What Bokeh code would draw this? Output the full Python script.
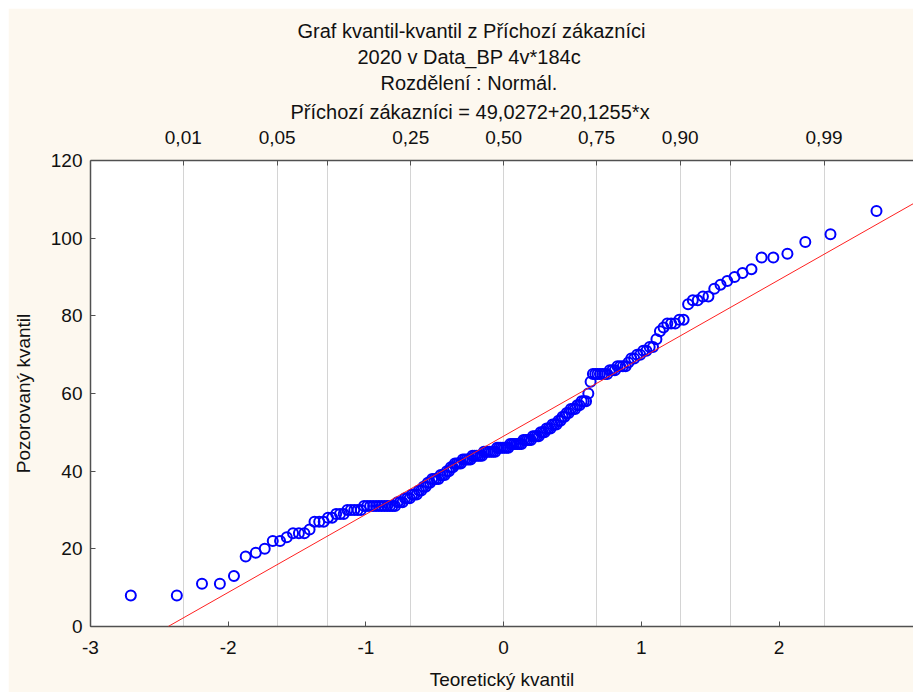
from statistics import NormalDist
from bokeh.plotting import figure
from bokeh.models import LinearAxis, FixedTicker, Range1d, Title, Slope
from bokeh.embed import file_html
from bokeh.resources import INLINE

observed = [
    8, 8, 11, 11, 13, 18, 19, 20, 22, 22,
    23, 24, 24, 24, 25, 27, 27, 27, 28, 28,
    29, 29, 29, 30, 30, 30, 30, 30, 31, 31,
    31, 31, 31, 31, 31, 31, 31, 31, 31, 31,
    32, 32, 32, 33, 33, 33, 34, 34, 34, 35,
    35, 36, 36, 37, 37, 38, 38, 38, 38, 39,
    39, 39, 40, 40, 41, 41, 42, 42, 42, 42,
    43, 43, 43, 43, 43, 44, 44, 44, 44, 44,
    44, 45, 45, 45, 45, 45, 45, 45, 46, 46,
    46, 46, 46, 46, 46, 47, 47, 47, 47, 47,
    47, 47, 48, 48, 48, 48, 48, 49, 49, 49,
    49, 50, 50, 50, 51, 51, 51, 52, 52, 52,
    53, 53, 54, 54, 55, 55, 56, 56, 56, 57,
    57, 58, 58, 58, 60, 63, 65, 65, 65, 65,
    65, 65, 65, 66, 66, 66, 67, 67, 67, 67,
    68, 69, 69, 70, 70, 71, 71, 72, 72, 74,
    76, 77, 78, 78, 78, 79, 79, 83, 84, 84,
    85, 85, 87, 88, 89, 90, 91, 92, 95, 95,
    96, 99, 101, 107,
]

prob_ticks = [0.01, 0.05, 0.10, 0.25, 0.50, 0.75, 0.90, 0.95, 0.99]
prob_labels = ["0,01", "0,05", "", "0,25", "0,50", "0,75", "0,90", "", "0,99"]
bottom_ticks = [-3, -2, -1, 0, 1, 2, 3]
bottom_labels = ["-3", "-2", "-1", "0", "1", "2", "3"]
left_ticks = [0, 20, 40, 60, 80, 100, 120]
intercept = 49.0272
slope = 20.1255
title_lines = [
    "Graf kvantil-kvantil z Příchozí zákazníci",
    "2020 v Data_BP 4v*184c",
    "Rozdělení : Normál.",
    "Příchozí zákazníci = 49,0272+20,1255*x",
]
# horizontal offset of each title line from the left edge of the plot area (px)
title_offsets = [207, 267, 290, 200]

FONT = "Liberation Sans"
FS = "19px"
CREAM = "#fdf8ef"
AX = "#505050"

nd = NormalDist()
n = len(observed)
theoretical = [nd.inv_cdf((i + 1 - 0.375) / (n + 0.25)) for i in range(n)]
prob_z = [round(nd.inv_cdf(pv), 5) for pv in prob_ticks]

p = figure(width=905, height=684, margin=(8, 0, 0, 8),
           output_backend="svg", toolbar_location=None,
           x_range=Range1d(-3, 2.976), y_range=Range1d(0, 120),
           min_border_left=82, min_border_right=0,
           min_border_top=152, min_border_bottom=66,
           background_fill_color="white", border_fill_color=CREAM,
           outline_line_color=None)

def style_axis(ax):
    ax.major_tick_in = 5
    ax.major_tick_out = 0
    ax.minor_tick_line_color = None
    ax.major_tick_line_color = AX
    ax.axis_line_color = AX
    ax.axis_line_width = 1.5
    ax.major_label_text_font = FONT
    ax.major_label_text_font_size = FS
    ax.major_label_text_color = "#111111"
    ax.axis_label_text_font = FONT
    ax.axis_label_text_font_size = FS
    ax.axis_label_text_font_style = "normal"
    ax.axis_label_text_color = "#111111"

bx = p.below[0]
bx.ticker = FixedTicker(ticks=bottom_ticks)
bx.major_label_overrides = {t: s for t, s in zip(bottom_ticks, bottom_labels)}
bx.axis_label = "Teoretický kvantil"
bx.major_label_standoff = 14
bx.axis_label_standoff = 12
style_axis(bx)

ly = p.left[0]
ly.ticker = FixedTicker(ticks=left_ticks)
ly.axis_label = "Pozorovaný kvantil"
ly.major_label_standoff = 8
ly.axis_label_standoff = 14
style_axis(ly)

top = LinearAxis(ticker=FixedTicker(ticks=prob_z),
                 major_label_overrides={z: lbl for z, lbl in zip(prob_z, prob_labels)})
top.major_label_standoff = 17
style_axis(top)
p.add_layout(top, "above")

for k in reversed(range(len(title_lines))):
    p.add_layout(Title(text=title_lines[k], align="left", offset=title_offsets[k],
                       text_font=FONT, text_font_size="20px", text_font_style="normal",
                       text_color="#111111", standoff=9 if k == 3 else 2), "above")

p.xgrid.ticker = FixedTicker(ticks=prob_z)
p.xgrid.grid_line_color = "#d4d4d4"
p.ygrid.visible = False

p.add_layout(Slope(gradient=slope, y_intercept=intercept, line_color="#ff2020", line_width=1))
p.scatter(theoretical, observed, marker="circle", size=10, fill_color=None,
          line_color="#0000ff", line_width=2)

open("out.html", "w").write(file_html(p, INLINE))
